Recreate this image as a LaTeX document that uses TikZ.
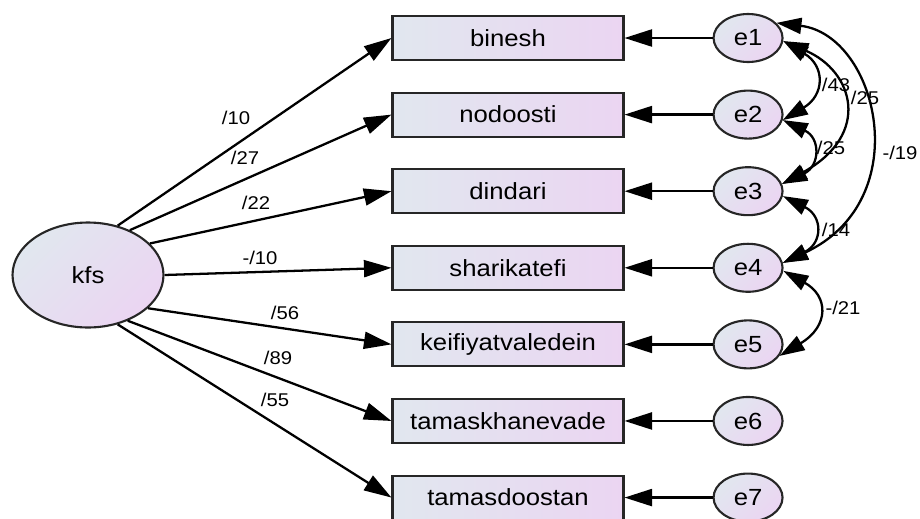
\documentclass[tikz,border=0pt]{standalone}
\usepackage{fontspec}
\setmainfont[FakeStretch=1.1]{Liberation Sans}
\usepackage{tikz}
\usetikzlibrary{positioning}
\usetikzlibrary{arrows.meta}
\usetikzlibrary{shapes.geometric}

\definecolor{shadeL}{RGB}{225,231,239}
\definecolor{shadeR}{RGB}{235,213,242}
\newcommand{\varfont}{\fontsize{13.3}{15}\selectfont}
\newcommand{\coeffont}{\fontsize{10.5}{12}\selectfont}

\begin{document}
\begin{tikzpicture}[
    x=0.02cm, y=-0.02cm,
    node distance=0.61cm and 1.76cm,
    obsnode/.style={rectangle, draw=black!85, line width=1.2pt, left color=shadeL, right color=shadeR, minimum width=4.62cm, minimum height=0.88cm, font=\varfont},
    errnode/.style={ellipse, draw=black!85, line width=1.2pt, left color=shadeL, right color=shadeR, shading angle=45, minimum width=1.38cm, minimum height=0.96cm, inner sep=0pt, font=\varfont},
    latnode/.style={errnode, minimum width=3.02cm, minimum height=2.1cm},
    regline/.style={-{Triangle[length=0.55cm,width=0.34cm]}, line width=1.3pt},
    covline/.style={{Triangle[length=0.5cm,width=0.32cm]}-{Triangle[length=0.5cm,width=0.32cm]}, line width=1.3pt},
    coeff/.style={font=\coeffont, inner sep=1pt}
    ]
    \useasboundingbox (0,0) rectangle (920,518);

    %Nodes
    \node[latnode] (kfs) at (88,275) {kfs};

    \node[obsnode] (binesh) at (508,38) {binesh};
    \node[obsnode] (nodoosti) [below=of binesh] {nodoosti};
    \node[obsnode] (dindari) [below=of nodoosti] {dindari};
    \node[obsnode] (sharik) [below=of dindari] {sharikatefi};
    \node[obsnode] (keifiyat) [below=of sharik] {keifiyatvaledein};
    \node[obsnode] (tamaskh) [below=of keifiyat] {tamaskhanevade};
    \node[obsnode] (tamasd) [below=of tamaskh] {tamasdoostan};

    \node[errnode] (e1) [right=of binesh] {e1};
    \node[errnode] (e2) [right=of nodoosti] {e2};
    \node[errnode] (e3) [right=of dindari] {e3};
    \node[errnode] (e4) [right=of sharik] {e4};
    \node[errnode] (e5) [right=of keifiyat] {e5};
    \node[errnode] (e6) [right=of tamaskh] {e6};
    \node[errnode] (e7) [right=of tamasd] {e7};

    %Lines
    \draw[regline] (kfs.59) -- (binesh.west);
    \draw[regline] (kfs.47) -- (nodoosti.west);
    \draw[regline] (kfs.27) -- (dindari.west);
    \draw[regline] (kfs.0) -- (sharik.west);
    \draw[regline] (kfs.-29) -- (keifiyat.west);
    \draw[regline] (kfs.-49) -- (tamaskh.west);
    \draw[regline] (kfs.-59) -- (tamasd.west);

    \draw[regline] (e1) -- (binesh);
    \draw[regline] (e2) -- (nodoosti);
    \draw[regline] (e3) -- (dindari);
    \draw[regline] (e4) -- (sharik);
    \draw[regline] (e5) -- (keifiyat);
    \draw[regline] (e6) -- (tamaskh);
    \draw[regline] (e7) -- (tamasd);

    %Covariances
    \draw[covline] (e1.-5) .. controls +(42,25) and +(42,-25) .. (e2.-9);
    \draw[covline] (e2.-9) .. controls +(38,18) and +(38,-18) .. (e3.12);
    \draw[covline] (e1.-5) .. controls +(70,30) and +(90,-50) .. (e3.12);
    \draw[covline] (e1.28) .. controls +(101,12) and +(135,-63) .. (e4.8);
    \draw[covline] (e3.-8) .. controls +(40,20) and +(40,-20) .. (e4.8);
    \draw[covline] (e4.-5) .. controls +(45,25) and +(50,-30) .. (e5.-20);

    %Labels
    \node[coeff] (w1) at (236,118) {/10};
    \node[coeff] (w2) at (245,158) {/27};
    \node[coeff] (w3) at (256,203) {/22};
    \node[coeff] (w4) at (260,258) {-/10};
    \node[coeff] (w5) at (285,313) {/56};
    \node[coeff] (w6) at (278,358) {/89};
    \node[coeff] (w7) at (275,400) {/55};

    \node[coeff] (c12) at (836,85) {/43};
    \node[coeff] (c13) at (865,98) {/25};
    \node[coeff] (c23) at (831,148) {/25};
    \node[coeff] (c14) at (900,153) {-/19};
    \node[coeff] (c34) at (836,230) {/14};
    \node[coeff] (c45) at (843,308) {-/21};

\end{tikzpicture}
\end{document}
